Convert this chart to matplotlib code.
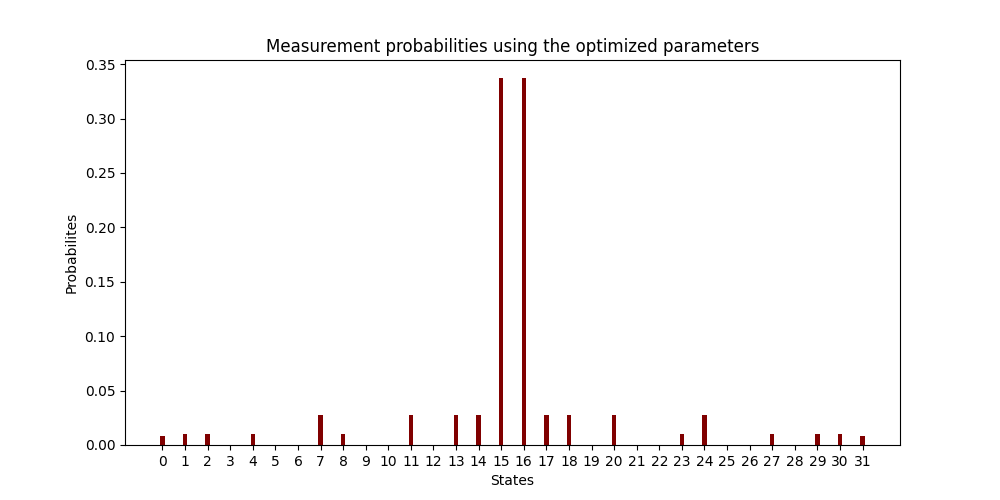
import numpy as np
import matplotlib.pyplot as plt

states = list(range(32))
probs = [0.008, 0.010, 0.010, 0, 0.010, 0, 0, 0.028, 0.010, 0, 0,
         0.028, 0, 0.028, 0.028, 0.337, 0.337, 0.028, 0.028, 0, 0.028,
         0, 0, 0.010, 0.028, 0, 0, 0.010, 0, 0.010, 0.010, 0.008]

fig, ax = plt.subplots(figsize=(10, 5), dpi=100)
ax.bar(states, probs, color='maroon', width=0.2)
ax.set_xticks(states)
ax.set_xlabel('States')
ax.set_ylabel('Probabilites')
ax.set_title('Measurement probabilities using the optimized parameters')
fig.savefig('out.png')
